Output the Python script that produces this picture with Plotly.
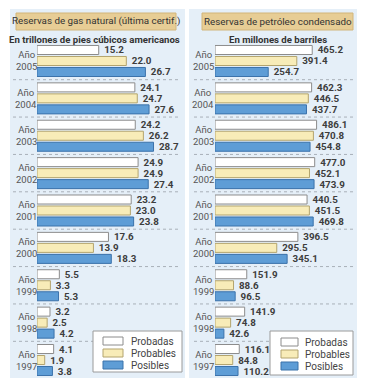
import plotly.graph_objects as go

years = ["2005", "2004", "2003", "2002", "2001", "2000", "1999", "1998", "1997"]
series_names = ["Probadas", "Probables", "Posibles"]

gas_probadas = [15.2, 24.1, 24.2, 24.9, 23.2, 17.6, 5.5, 3.2, 4.1]
gas_probables = [22.0, 24.7, 26.2, 24.9, 23.0, 13.9, 3.3, 2.5, 1.9]
gas_posibles = [26.7, 27.6, 28.7, 27.4, 23.8, 18.3, 5.3, 4.2, 3.8]

pet_probadas = [465.2, 462.3, 486.1, 477.0, 440.5, 396.5, 151.9, 141.9, 116.1]
pet_probables = [391.4, 446.5, 470.8, 452.1, 451.5, 295.5, 88.6, 74.8, 84.8]
pet_posibles = [254.7, 437.7, 454.8, 473.9, 469.8, 345.1, 96.5, 42.6, 110.2]

title_gas = "Reservas de gas natural (última certif.)"
title_pet = "Reservas de petróleo condensado"
sub_gas = "En trillones de pies cúbicos americanos"
sub_pet = "En millones de barriles"

W, H = 365, 385
FONT = "Roboto, Liberation Sans, sans-serif"

fills = ["#ffffff", "#f8ecb8", "#5e9dd6"]
lines = ["#8c8c8c", "#b3a46e", "#3b72aa"]

rows = list(range(len(years)))  # row index of each year (2005 first)


def px(x):
    return x / W


def py(y):
    return 1 - y / H


fig = go.Figure()

panels = [
    dict(vals=[gas_probadas, gas_probables, gas_posibles], xa="x", ya="y"),
    dict(vals=[pet_probadas, pet_probables, pet_posibles], xa="x2", ya="y2"),
]

for p in panels:
    for name, vals, fc, lc in zip(series_names, p["vals"], fills, lines):
        fig.add_trace(go.Bar(
            x=vals, y=rows, orientation="h", name=name,
            xaxis=p["xa"], yaxis=p["ya"],
            marker=dict(color=fc, line=dict(color=lc, width=1)),
            texttemplate="\u00a0%{x:.1f}", textposition="outside",
            textfont=dict(family=FONT, size=9.8, color="#3d3d3d", weight="bold"),
            constraintext="none", cliponaxis=False, showlegend=False,
            hoverinfo="skip",
        ))

ydom = [py(370.7), py(34.3)]
common_y = dict(range=[len(years) - 0.5, -0.5], showticklabels=False, showgrid=False,
                zeroline=False, showline=False, ticks="", fixedrange=True)
common_x = dict(showticklabels=False, showgrid=False, zeroline=False,
                showline=False, ticks="", fixedrange=True)

fig.update_layout(
    width=W, height=H, autosize=False,
    margin=dict(l=0, r=0, t=0, b=0),
    paper_bgcolor="white", plot_bgcolor="rgba(0,0,0,0)",
    barmode="group", bargap=0.117, bargroupgap=0.18,
    showlegend=False,
    xaxis=dict(domain=[px(29), px(29 + 36 * 4.06)], range=[0, 36], anchor="y", **common_x),
    yaxis=dict(domain=ydom, anchor="x", **common_y),
    xaxis2=dict(domain=[px(207), px(207 + 680 * 0.209)], range=[0, 680], anchor="y2", **common_x),
    yaxis2=dict(domain=ydom, anchor="x2", **common_y),
)

shapes = []
annotations = []

# panel backgrounds
for x0, x1 in [(2, 177), (181, 350)]:
    shapes.append(dict(type="rect", xref="paper", yref="paper", layer="below",
                       x0=px(x0), x1=px(x1), y0=py(370), y1=py(1),
                       fillcolor="#e5eff8", line=dict(width=0)))

# title boxes
for (x0, x1), t in [((8, 168), title_gas), ((194, 345), title_pet)]:
    shapes.append(dict(type="rect", xref="paper", yref="paper",
                       x0=px(x0), x1=px(x1), y0=py(22), y1=py(5),
                       fillcolor="#e7cd95", line=dict(color="#d2b57a", width=1)))
    annotations.append(dict(xref="paper", yref="paper", x=px((x0 + x1) / 2), y=py(13.5),
                            text=t, showarrow=False, xanchor="center", yanchor="middle",
                            font=dict(family=FONT, size=9.8, color="#333333")))

# subtitles
for cx, t in [(86, sub_gas), (270, sub_pet)]:
    annotations.append(dict(xref="paper", yref="paper", x=px(cx), y=py(31),
                            text="<b>" + t + "</b>", showarrow=False,
                            xanchor="center", yanchor="middle",
                            font=dict(family=FONT, size=9.6, color="#333333")))

# separators and year labels
for ya, (sx0, sx1), lx in [("y", (5, 170), 18), ("y2", (186, 346), 195)]:
    for i in rows[:-1]:
        shapes.append(dict(type="line", xref="paper", yref=ya,
                           x0=px(sx0), x1=px(sx1), y0=i + 0.5, y1=i + 0.5,
                           line=dict(color="#a8b0b8", width=1, dash="dot")))
    for i, yr in zip(rows, years):
        annotations.append(dict(xref="paper", yref=ya, x=px(lx), y=i,
                                text="Año<br>" + yr, showarrow=False,
                                xanchor="center", yanchor="middle", align="center",
                                font=dict(family=FONT, size=9.5, color="#555555")))

# custom legends
legend_boxes = [
    dict(box=(85, 174, 323, 364), sw=(95, 115), tx=121, ys=(333, 345, 357)),
    dict(box=(262, 345, 323, 367), sw=(273, 290), tx=295, ys=(334, 346, 358)),
]
for lg in legend_boxes:
    bx0, bx1, by0, by1 = lg["box"]
    shapes.append(dict(type="rect", xref="paper", yref="paper",
                       x0=px(bx0), x1=px(bx1), y0=py(by1), y1=py(by0),
                       fillcolor="white", line=dict(color="#9a9a9a", width=1)))
    for name, fc, lc, yc in zip(series_names, fills, lines, lg["ys"]):
        shapes.append(dict(type="rect", xref="paper", yref="paper",
                           x0=px(lg["sw"][0]), x1=px(lg["sw"][1]),
                           y0=py(yc + 4), y1=py(yc - 4),
                           fillcolor=fc, line=dict(color=lc, width=1)))
        annotations.append(dict(xref="paper", yref="paper", x=px(lg["tx"]), y=py(yc),
                                text=name, showarrow=False, xanchor="left", yanchor="middle",
                                font=dict(family=FONT, size=10, color="#444444")))

fig.update_layout(shapes=shapes, annotations=annotations)
fig.write_html("out.html")
